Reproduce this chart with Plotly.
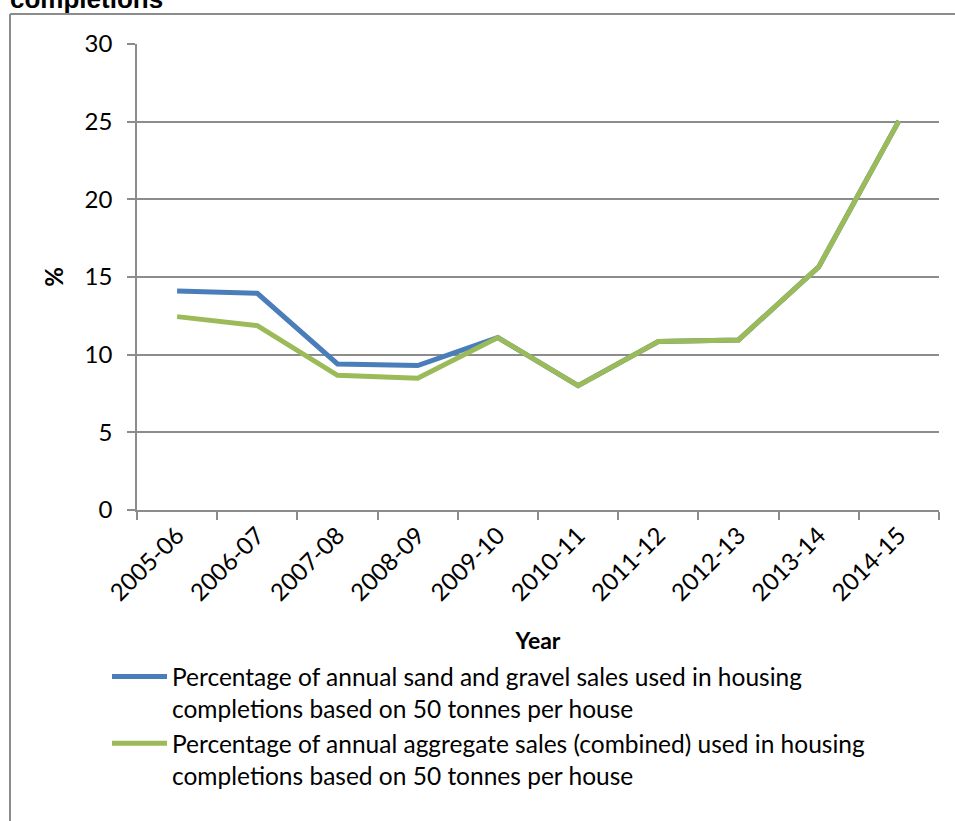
import plotly.graph_objects as go

years = ["2005-06", "2006-07", "2007-08", "2008-09", "2009-10",
         "2010-11", "2011-12", "2012-13", "2013-14", "2014-15"]
sand_gravel = [14.1, 13.95, 9.4, 9.3, 11.1, 8.0, 10.85, 10.95, 15.65, 25.05]
aggregate = [12.45, 11.87, 8.67, 8.48, 11.1, 8.0, 10.85, 10.95, 15.65, 25.05]

name_sg = "Percentage of annual sand and gravel sales used in housing<br>completions based on 50 tonnes per house"
name_ag = "Percentage of annual aggregate sales (combined) used in housing<br>completions based on 50 tonnes per house"

FONT = "Lato"
GRID = "#8c8c8c"

fig = go.Figure()
fig.add_trace(go.Scatter(x=years, y=sand_gravel, mode="lines", name=name_sg,
                         line=dict(color="#4A7EBB", width=5)))
fig.add_trace(go.Scatter(x=years, y=aggregate, mode="lines", name=name_ag,
                         line=dict(color="#9BBB59", width=5)))

W, H = 955, 821
ml, mr, mt, mb = 137, 16, 44, 311
pw = W - ml - mr
ph = H - mt - mb


def px_x(x):
    return (x - ml) / pw


def px_y(y):
    return (H - mb - y) / ph


fig.update_layout(
    width=W, height=H,
    margin=dict(l=ml, r=mr, t=mt, b=mb, pad=0),
    paper_bgcolor="white", plot_bgcolor="white",
    font=dict(family=FONT, size=24, color="black"),
    showlegend=True,
    legend=dict(x=px_x(107), y=px_y(654), xanchor="left", yanchor="top",
                font=dict(family=FONT, size=24.5), valign="top",
                itemwidth=55, bgcolor="rgba(0,0,0,0)"),
    xaxis=dict(type="category", range=[-0.5, 9.5], tickson="boundaries",
               ticks="outside", ticklen=8, tickcolor=GRID, tickwidth=1.5,
               showline=True, linecolor=GRID, linewidth=1.5,
               showgrid=False, tickangle=-45,
               tickfont=dict(family=FONT, size=24),
               title=dict(text="<b>Year</b>", font=dict(family=FONT, size=23), standoff=28)),
    yaxis=dict(range=[0, 30], dtick=5, ticks="outside", ticklen=8,
               tickcolor=GRID, tickwidth=1.5,
               showline=True, linecolor=GRID, linewidth=1.5,
               showgrid=True, gridcolor=GRID, gridwidth=1.5,
               zeroline=False, ticklabelstandoff=10,
               tickfont=dict(family=FONT, size=24),
               title=dict(text="<b>%</b>", font=dict(family=FONT, size=24), standoff=14)),
)

# outer chart border (partially visible)
fig.add_shape(type="line", xref="paper", yref="paper",
              x0=px_x(10), x1=px_x(10), y0=px_y(14), y1=px_y(H + 5),
              line=dict(color=GRID, width=2))
fig.add_shape(type="line", xref="paper", yref="paper",
              x0=px_x(10), x1=px_x(W + 5), y0=px_y(14), y1=px_y(14),
              line=dict(color=GRID, width=2))

# cut-off title fragment
fig.add_annotation(text="<b>completions</b>", xref="paper", yref="paper",
                   x=px_x(8), y=px_y(16),
                   xanchor="left", yanchor="bottom", showarrow=False,
                   font=dict(family="Liberation Sans", size=26, color="black"))

fig.write_html("out.html", config={"displayModeBar": False},
               post_script="document.body.style.margin='0';")
